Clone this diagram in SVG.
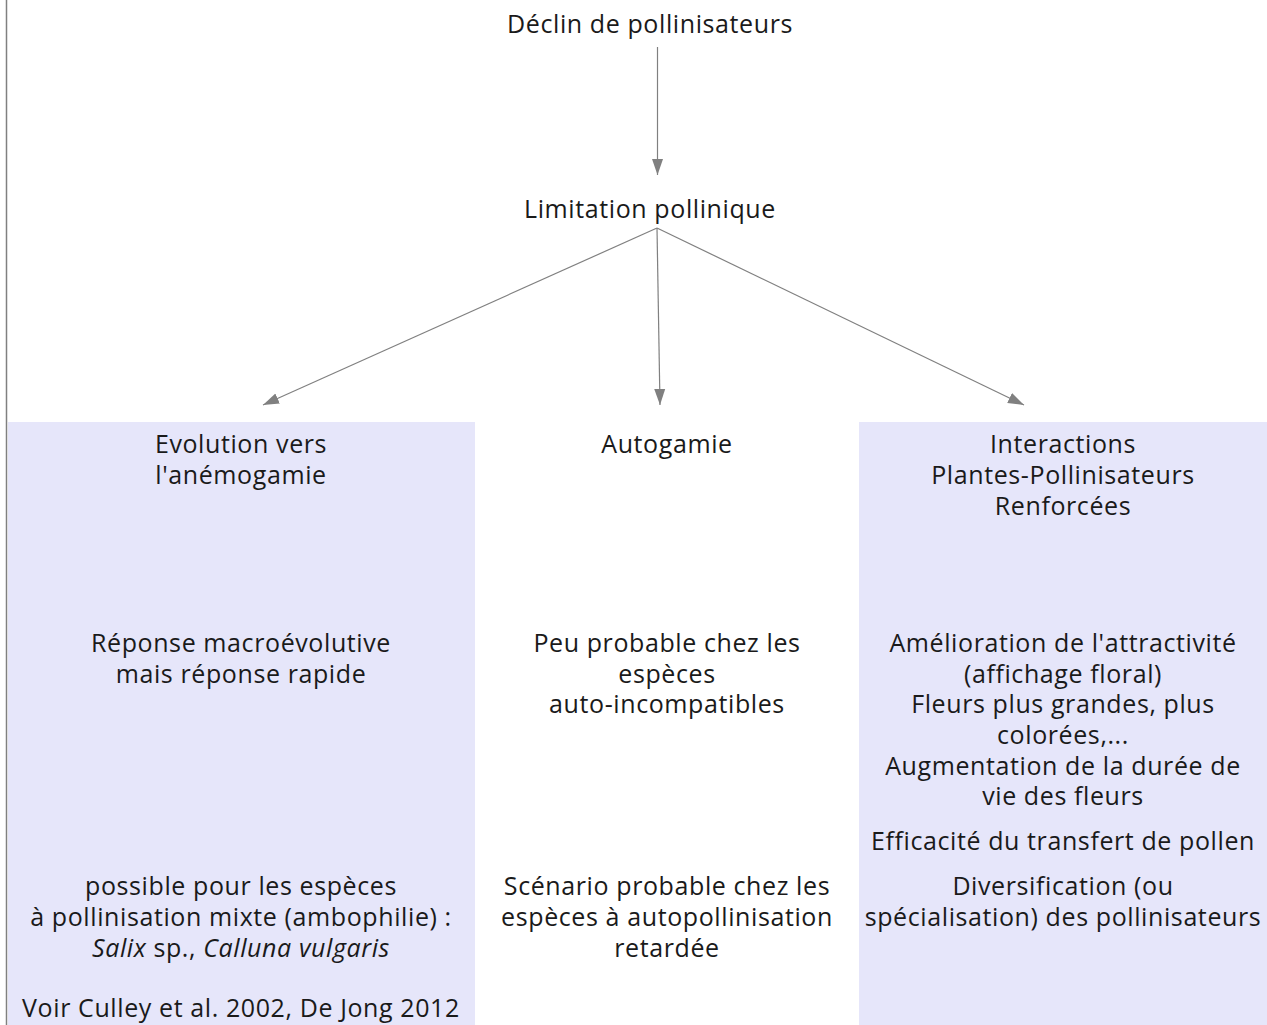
<svg xmlns="http://www.w3.org/2000/svg" width="1267" height="1025" viewBox="0 0 1267 1025">
<style>
text{font-family:"Open Sans","DejaVu Sans",sans-serif;font-size:25px;letter-spacing:0.6px;fill:#1a1a1a;text-anchor:middle}
.box{fill:#e6e6fa}
.conn{stroke:#808080;stroke-width:1.2;fill:none}
</style>
<defs>
<marker id="ah" viewBox="0 0 16 12" refX="16" refY="6" markerWidth="16" markerHeight="12" markerUnits="userSpaceOnUse" orient="auto">
<path d="M0,0.5 L16,6 L0,11.5 z" fill="#808080"/>
</marker>
</defs>
<rect width="1267" height="1025" fill="#fff"/>
<line x1="6.5" y1="0" x2="6.5" y2="1025" stroke="#808080" stroke-width="1.5"/>
<g id="n-evolution">
<rect class="box" x="8" y="422" width="467" height="603"/>
<text x="241" y="453">Evolution vers</text>
<text x="241" y="484">l'anémogamie</text>
<text x="241" y="652">Réponse macroévolutive</text>
<text x="241" y="683">mais réponse rapide</text>
<text x="241" y="895">possible pour les espèces</text>
<text x="241" y="926">à pollinisation mixte (ambophilie) :</text>
<text x="241" y="957"><tspan font-style="italic">Salix</tspan> sp., <tspan font-style="italic">Calluna vulgaris</tspan></text>
<text x="241" y="1017">Voir Culley et al. 2002, De Jong 2012</text>
</g>
<g id="n-interactions">
<rect class="box" x="859" y="422" width="408" height="603"/>
<text x="1063" y="453">Interactions</text>
<text x="1063" y="484">Plantes-Pollinisateurs</text>
<text x="1063" y="515">Renforcées</text>
<text x="1063" y="652">Amélioration de l'attractivité</text>
<text x="1063" y="683">(affichage floral)</text>
<text x="1063" y="713">Fleurs plus grandes, plus</text>
<text x="1063" y="744">colorées,...</text>
<text x="1063" y="775">Augmentation de la durée de</text>
<text x="1063" y="805">vie des fleurs</text>
<text x="1063" y="850">Efficacité du transfert de pollen</text>
<text x="1063" y="895">Diversification (ou</text>
<text x="1063" y="926">spécialisation) des pollinisateurs</text>
</g>
<g id="n-autogamie">
<text x="667" y="453">Autogamie</text>
<text x="667" y="652">Peu probable chez les</text>
<text x="667" y="683">espèces</text>
<text x="667" y="713">auto-incompatibles</text>
<text x="667" y="895">Scénario probable chez les</text>
<text x="667" y="926">espèces à autopollinisation</text>
<text x="667" y="957">retardée</text>
</g>
<g id="n-declin">
<text x="650" y="33">Déclin de pollinisateurs</text>
</g>
<g id="n-limitation">
<text x="650" y="218">Limitation pollinique</text>
</g>
<g id="connectors">
<line class="conn" x1="657.5" y1="47" x2="657.5" y2="175" marker-end="url(#ah)"/>
<line class="conn" x1="657" y1="228" x2="263" y2="405" marker-end="url(#ah)"/>
<line class="conn" x1="657" y1="228" x2="660" y2="405" marker-end="url(#ah)"/>
<line class="conn" x1="657" y1="228" x2="1024" y2="405" marker-end="url(#ah)"/>
</g>
</svg>
